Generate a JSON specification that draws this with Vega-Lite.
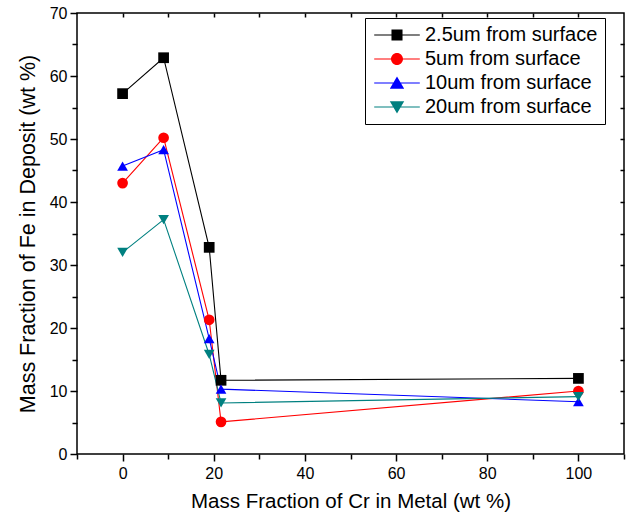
{
  "$schema": "https://vega.github.io/schema/vega-lite/v6.json",
  "width": 547,
  "height": 441,
  "autosize": "none",
  "padding": {"left": 77, "top": 13, "right": 2, "bottom": 65},
  "background": "white",
  "config": {
    "font": "Liberation Sans",
    "view": {"stroke": "black", "strokeWidth": 1.5},
    "axis": {
      "domain": false,
      "grid": false,
      "tickColor": "black",
      "tickWidth": 1.5,
      "labelColor": "black",
      "labelFontSize": 16,
      "labelFont": "Liberation Sans",
      "titleFont": "Liberation Sans",
      "titleFontSize": 20,
      "titleFontWeight": "normal",
      "titleColor": "black"
    },
    "legend": {
      "orient": "none",
      "legendX": 288,
      "legendY": 5,
      "direction": "vertical",
      "strokeColor": "black",
      "fillColor": "white",
      "padding": 7,
      "labelFontSize": 20,
      "labelFont": "Liberation Sans",
      "labelColor": "black",
      "labelLimit": 0,
      "symbolSize": 144,
      "symbolOffset": 15,
      "rowPadding": 4,
      "labelOffset": 18,
      "symbolOpacity": 1,
      "symbolStrokeWidth": 0
    }
  },
  "data": {
    "values": [
      {"series": "2.5um from surface", "cr": 0, "fe": 57.2},
      {"series": "2.5um from surface", "cr": 9, "fe": 62.9},
      {"series": "2.5um from surface", "cr": 19, "fe": 32.8},
      {"series": "2.5um from surface", "cr": 21.6, "fe": 11.7},
      {"series": "2.5um from surface", "cr": 100, "fe": 12.0},
      {"series": "5um from surface", "cr": 0, "fe": 43.0},
      {"series": "5um from surface", "cr": 9, "fe": 50.2},
      {"series": "5um from surface", "cr": 19, "fe": 21.3},
      {"series": "5um from surface", "cr": 21.6, "fe": 5.1},
      {"series": "5um from surface", "cr": 100, "fe": 10.0},
      {"series": "10um from surface", "cr": 0, "fe": 45.7},
      {"series": "10um from surface", "cr": 9, "fe": 48.3},
      {"series": "10um from surface", "cr": 19, "fe": 18.3},
      {"series": "10um from surface", "cr": 21.6, "fe": 10.3},
      {"series": "10um from surface", "cr": 100, "fe": 8.3},
      {"series": "20um from surface", "cr": 0, "fe": 32.0},
      {"series": "20um from surface", "cr": 9, "fe": 37.2},
      {"series": "20um from surface", "cr": 19, "fe": 15.8},
      {"series": "20um from surface", "cr": 21.6, "fe": 8.1},
      {"series": "20um from surface", "cr": 100, "fe": 9.1}
    ]
  },
  "layer": [
    {
      "mark": {"type": "line", "strokeWidth": 1.1},
      "encoding": {
        "x": {
          "field": "cr", "type": "quantitative",
          "scale": {"domain": [-10, 110], "nice": false, "zero": false},
          "axis": {
            "orient": "bottom",
            "values": [-10, 0, 10, 20, 30, 40, 50, 60, 70, 80, 90, 100, 110],
            "labelExpr": "datum.value % 20 === 0 ? datum.label : ''",
            "tickSize": {"condition": {"test": "datum.value % 20 === 0", "value": 7}, "value": 5},
            "labelPadding": 4,
            "title": "Mass Fraction of Cr in Metal (wt %)",
            "titleFontSize": 20.5,
            "titlePadding": 10
          }
        },
        "y": {
          "field": "fe", "type": "quantitative",
          "scale": {"domain": [0, 70], "nice": false},
          "axis": {
            "orient": "left",
            "values": [0, 5, 10, 15, 20, 25, 30, 35, 40, 45, 50, 55, 60, 65, 70],
            "labelExpr": "datum.value % 10 === 0 ? datum.label : ''",
            "tickSize": {"condition": {"test": "datum.value % 10 === 0", "value": 7}, "value": 5},
            "labelPadding": 3,
            "title": "Mass Fraction of Fe in Deposit (wt %)",
            "titleFontSize": 21.5,
            "titlePadding": 10
          }
        },
        "color": {
          "field": "series", "type": "nominal", "title": null,
          "scale": {
            "domain": ["2.5um from surface", "5um from surface", "10um from surface", "20um from surface"],
            "range": ["#000000", "#ff0000", "#0000ff", "#008080"]
          },
          "legend": null
        }
      }
    },
    {
      "mark": {"type": "point", "filled": true, "opacity": 1, "size": 115},
      "encoding": {
        "x": {"field": "cr", "type": "quantitative", "axis": null},
        "y": {"field": "fe", "type": "quantitative", "axis": null},
        "color": {
          "field": "series", "type": "nominal", "title": null,
          "scale": {
            "domain": ["2.5um from surface", "5um from surface", "10um from surface", "20um from surface"],
            "range": ["#000000", "#ff0000", "#0000ff", "#008080"]
          },
          "legend": null
        },
        "shape": {
          "field": "series", "type": "nominal", "title": null,
          "scale": {
            "domain": ["2.5um from surface", "5um from surface", "10um from surface", "20um from surface"],
            "range": ["square", "circle", "triangle-up", "triangle-down"]
          },
          "legend": null
        }
      }
    },
    {
      "mark": {"type": "point", "filled": true, "opacity": 0},
      "encoding": {
        "x": {
          "field": "cr", "type": "quantitative",
          "axis": {
            "orient": "top",
            "values": [0, 10, 20, 30, 40, 50, 60, 70, 80, 90, 100],
            "labels": false,
            "tickSize": -4,
            "title": null
          }
        },
        "y": {
          "field": "fe", "type": "quantitative",
          "axis": {
            "orient": "right",
            "values": [5, 10, 15, 20, 25, 30, 35, 40, 45, 50, 55, 60, 65],
            "labels": false,
            "tickSize": -4,
            "title": null
          }
        },
        "color": {
          "field": "series", "type": "nominal", "title": null,
          "scale": {
            "domain": ["2.5um from surface", "5um from surface", "10um from surface", "20um from surface"],
            "range": ["#000000", "#ff0000", "#0000ff", "#008080"]
          }
        },
        "shape": {
          "field": "series", "type": "nominal", "title": null,
          "scale": {
            "domain": ["2.5um from surface", "5um from surface", "10um from surface", "20um from surface"],
            "range": [
              "M-3.8,-0.09H3.8V0.09H-3.8ZM-0.92,-0.92H0.92V0.92H-0.92Z",
              "M-3.8,-0.09H3.8V0.09H-3.8ZM1,0A1,1 0 1,1 -1,0A1,1 0 1,1 1,0Z",
              "M-3.8,-0.09H3.8V0.09H-3.8ZM0,-1.1L1.2,0.95H-1.2Z",
              "M-3.8,-0.09H3.8V0.09H-3.8ZM0,1.1L-1.2,-0.95H1.2Z"
            ]
          }
        }
      }
    }
  ],
  "resolve": {
    "axis": {"x": "independent", "y": "independent"},
    "scale": {"shape": "independent"},
    "legend": {"shape": "independent", "color": "independent"}
  }
}
